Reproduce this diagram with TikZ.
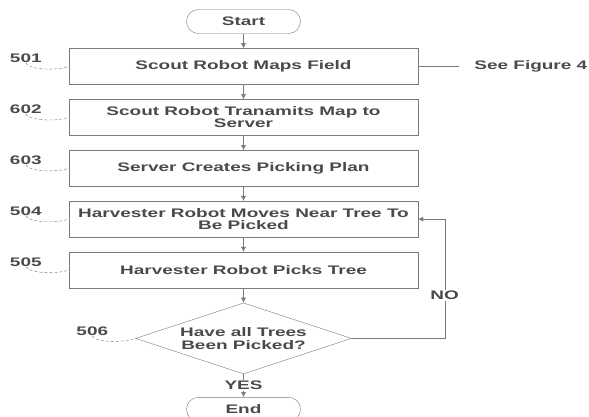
\documentclass[tikz,border=0pt]{standalone}
\usepackage{fontspec}
\usepackage{tikz}
\usetikzlibrary{arrows.meta,positioning,shapes.geometric}
\newfontfamily\flowfont{Liberation Sans}[UprightFont={* Bold}, FakeStretch=1.53]
\definecolor{flowline}{HTML}{7A7A7A}
\definecolor{flowink}{HTML}{4A4A4A}

\begin{document}
\begin{tikzpicture}[
  node distance=14.5pt,
  every node/.style={font=\flowfont\fontsize{12.4}{12.5}\selectfont, text=flowink},
  term/.style={draw=flowline, rounded corners=12pt, minimum width=114pt, minimum height=24pt, inner sep=0pt},
  box/.style={draw=flowline, minimum width=349pt, minimum height=36pt, align=center, inner sep=2pt},
  decision/.style={draw=flowline, diamond, aspect=3, minimum width=216pt, minimum height=71pt, inner sep=0pt, align=center},
  tag/.style={inner sep=0pt},
  leader/.style={draw=flowline, densely dashed, thin},
  arrow/.style={-{Latex[length=5pt,width=5pt]}, draw=flowline, thin}
]
\useasboundingbox (0,0) rectangle (589pt,-416pt);
\node[term] (start) at (243.5pt,-21.5pt) {Start};
\node[box, below=of start] (scout) {Scout Robot Maps Field};
\node[box, below=of scout] (transmit) {Scout Robot Tranamits Map to\\Server};
\node[box, below=of transmit] (plan) {Server Creates Picking Plan};
\node[box, below=of plan] (moves) {Harvester Robot Moves Near Tree To\\Be Picked};
\node[box, below=of moves] (picks) {Harvester Robot Picks Tree};
\node[decision, below=of picks] (decide) {Have all Trees\\Been Picked?};
\node[term, below=23pt of decide] (end) {End};
\node[tag, right=56pt of scout] (seefig) {See Figure 4};
\coordinate[right=93pt of decide.east] (loop);

% reference numerals
\node[tag] (t501) at ([xshift=-43pt,yshift=8pt]scout.west) {501};
\node[tag] (t602) at ([xshift=-43pt,yshift=8pt]transmit.west) {602};
\node[tag] (t603) at ([xshift=-43pt,yshift=8pt]plan.west) {603};
\node[tag] (t504) at ([xshift=-43pt,yshift=8pt]moves.west) {504};
\node[tag] (t505) at ([xshift=-43pt,yshift=8pt]picks.west) {505};
\node[tag] (t506) at ([xshift=-43pt,yshift=7pt]decide.west) {506};
\draw[leader] (t501.south) .. controls +(2pt,-6pt) and +(-15pt,-5pt) .. (scout.west);
\draw[leader] (t602.south) .. controls +(2pt,-6pt) and +(-15pt,-5pt) .. (transmit.west);
\draw[leader] (t603.south) .. controls +(2pt,-6pt) and +(-15pt,-5pt) .. (plan.west);
\draw[leader] (t504.south) .. controls +(2pt,-6pt) and +(-15pt,-5pt) .. (moves.west);
\draw[leader] (t505.south) .. controls +(2pt,-6pt) and +(-15pt,-5pt) .. (picks.west);
\draw[leader] (t506.south) .. controls +(2pt,-6pt) and +(-15pt,-5pt) .. (decide.west);

\draw[arrow] (start) -- (scout);
\draw[arrow] (scout) -- (transmit);
\draw[arrow] (transmit) -- (plan);
\draw[arrow] (plan) -- (moves);
\draw[arrow] (moves) -- (picks);
\draw[arrow] (picks) -- (decide);
\draw[arrow] (decide) -- node[fill=white, inner sep=1pt]{YES} (end);
\draw[arrow] (decide.east) -- (loop) |- node[pos=0.18, fill=white, inner sep=1.5pt]{NO} (moves.east);
\draw[draw=flowline, thin, shorten >=15pt] (scout) -- (seefig);
\end{tikzpicture}
\end{document}
